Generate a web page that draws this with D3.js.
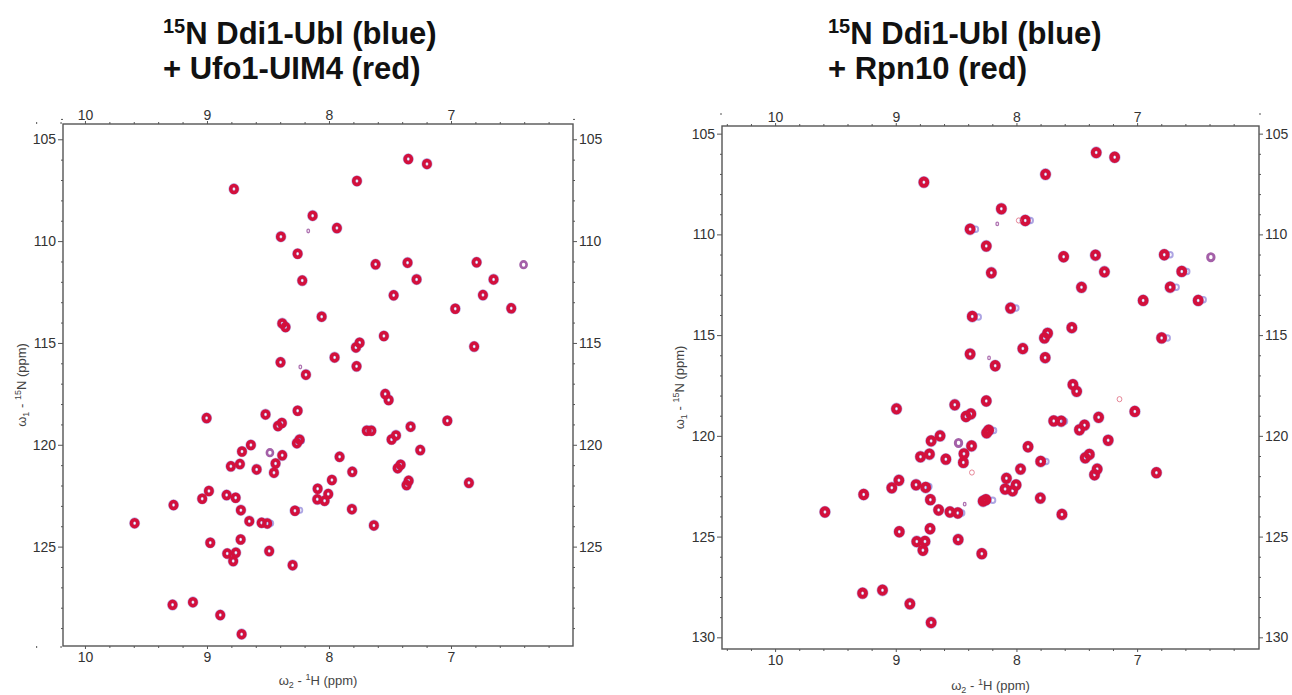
<!DOCTYPE html>
<meta charset="utf-8">
<script src="https://d3js.org/d3.v7.min.js"></script>
<style>
  body { margin: 0; background: #fff; }
  svg text { font-family: "Liberation Sans", Arial, Helvetica, sans-serif; }
</style>
<body>
<div id="chart"></div>
<script>
// peak positions in ppm, [1H, 15N]
// left: 15N Ddi1-Ubl + Ufo1-UIM4
var ufoRed = [
  [7.350,105.97],[7.197,106.21],[7.771,107.05],[8.779,107.44],[8.134,108.75],[7.935,109.36],
  [8.394,109.78],[8.257,110.62],[7.618,111.14],[7.356,111.06],[6.790,111.04],[8.219,111.94],
  [7.282,111.88],[6.651,111.88],[7.470,112.66],[6.738,112.65],[6.965,113.32],[6.506,113.30],
  [8.060,113.71],[8.383,114.04],[8.356,114.22],[7.550,114.66],[7.779,115.22],[7.749,114.99],
  [6.810,115.18],[8.397,115.95],[8.189,116.56],[7.954,115.71],[7.774,116.15],[7.539,117.51],
  [7.511,117.80],[9.003,118.69],[8.520,118.51],[8.257,118.33],[8.418,119.08],[8.386,118.93],
  [7.030,118.82],[7.690,119.31],[7.653,119.31],[7.487,119.74],[7.451,119.54],[7.331,119.11],
  [8.263,119.92],[8.241,119.75],[7.252,120.26],[8.640,120.01],[8.713,120.33],[8.383,120.52],
  [8.438,120.92],[8.451,121.37],[8.804,121.06],[8.730,120.95],[8.593,121.21],[7.913,120.59],
  [7.809,121.33],[7.437,121.15],[7.413,120.98],[7.364,121.98],[7.347,121.77],[6.853,121.87],
  [7.976,121.73],[8.093,122.16],[8.006,122.42],[8.036,122.75],[8.096,122.68],[8.984,122.27],
  [9.039,122.65],[8.839,122.47],[8.765,122.60],[9.274,122.96],[8.722,123.21],[8.279,123.24],
  [7.812,123.16],[9.593,123.85],[8.653,123.75],[8.552,123.83],[8.506,123.86],[7.632,123.96],
  [8.973,124.81],[8.724,124.65],[8.834,125.34],[8.763,125.30],[8.785,125.71],[8.490,125.22],
  [8.298,125.91],[9.282,127.86],[9.115,127.73],[8.891,128.36],[8.716,129.30]
];
var ufoWeak = [[8.484,120.39],[6.405,111.16]];
var ufoTiny = [[8.170,109.50],[8.235,116.18]];
var ufoBlueOnly = [[8.224,119.80],[8.238,123.21],[8.476,123.85]];

// right: 15N Ddi1-Ubl + Rpn10
var rpnRed = [
  [7.339,105.94],[7.186,106.17],[7.759,107.02],[8.767,107.41],[8.125,108.73],[7.927,109.31],
  [8.384,109.74],[8.250,110.58],[7.609,111.11],[7.345,111.03],[6.775,111.01],[8.208,111.91],
  [7.271,111.86],[6.630,111.84],[7.461,112.63],[6.726,112.62],[6.950,113.28],[6.494,113.28],
  [8.049,113.66],[8.366,114.07],[7.541,114.63],[7.768,115.14],[7.742,114.91],[6.797,115.14],
  [8.384,115.94],[8.176,116.52],[7.947,115.67],[7.762,116.12],[7.532,117.46],[7.501,117.79],
  [8.994,118.66],[8.511,118.46],[8.250,118.27],[8.418,119.04],[8.378,118.91],[7.019,118.79],
  [7.691,119.26],[7.629,119.27],[7.478,119.70],[7.436,119.47],[7.319,119.08],[8.247,119.85],
  [8.230,119.72],[7.240,120.22],[8.633,120.00],[8.707,120.25],[8.372,120.50],[8.435,120.89],
  [8.440,121.32],[8.795,121.04],[8.721,120.91],[8.585,121.16],[7.904,120.54],[7.799,121.27],
  [7.430,121.09],[7.396,120.92],[7.353,121.93],[7.331,121.65],[6.840,121.83],[7.966,121.65],
  [8.083,122.11],[8.003,122.44],[8.032,122.73],[8.094,122.64],[8.974,122.21],[9.033,122.58],
  [8.832,122.43],[8.752,122.56],[9.266,122.91],[8.713,123.17],[8.276,123.24],[8.253,123.17],
  [7.802,123.09],[9.587,123.78],[8.645,123.68],[8.551,123.78],[8.486,123.83],[7.623,123.90],
  [8.971,124.76],[8.716,124.61],[8.826,125.25],[8.758,125.24],[8.775,125.68],[8.483,125.15],
  [8.287,125.85],[9.275,127.81],[9.110,127.66],[8.883,128.34],[8.707,129.27]
];
var rpnWeak = [[6.389,111.13],[8.480,120.35]];
var rpnTiny = [[8.159,109.48],[8.227,116.13],[8.429,123.39]];
var rpnFaintRed = [[7.146,118.18],[8.369,121.82],[7.981,109.31]];
var rpnBlueOnly = [
  [6.726,111.01],[6.675,112.62],[6.587,111.84],[6.451,113.24],[6.749,115.14],[8.188,119.74],
  [8.196,123.20],[8.452,123.83],[7.600,119.27],[8.315,114.10],[8.724,122.51],[7.884,109.31],
  [8.338,109.74],[8.003,113.66],[7.754,121.27]
];

var hMajor = [10, 9, 8, 7];
var hMinor = [10.4, 10.2, 9.8, 9.6, 9.4, 9.2, 8.8, 8.6, 8.4, 8.2, 7.8, 7.6, 7.4, 7.2, 6.8, 6.6, 6.4, 6.2];
var nMajorUfo = [105, 110, 115, 120, 125];
var nMajorRpn = [105, 110, 115, 120, 125, 130];
var nMinor = [104,106,107,108,109,111,112,113,114,116,117,118,119,121,122,123,124,126,127,128,129];

var RED = "#d3103c", BLUE = "#5b4cc8", PURPLE = "#9a4f9e";

var svg = d3.select("#chart").append("svg")
  .attr("width", 1292).attr("height", 695);

function drawPanel(p) {
  var g = svg.append("g");
  var x = d3.scaleLinear().domain(p.hDomain).range([p.left, p.right]);
  var y = d3.scaleLinear().domain(p.nDomain).range([p.top, p.bottom]);

  // title
  p.title.forEach(function(line, i) {
    var t = g.append("text")
      .attr("x", p.titleX).attr("y", p.titleY + i * 35)
      .style("font-size", "31px").style("font-weight", "bold").attr("fill", "#111");
    if (line.sup) {
      t.append("tspan").text(line.sup).style("font-size", "20px").attr("dy", "-11");
      t.append("tspan").text(line.text).attr("dy", "11");
    } else {
      t.append("tspan").text(line.text);
    }
  });

  function ax(gen, scale, vals, size, pad, tr, labels) {
    var a = gen(scale).tickValues(vals).tickSize(size).tickSizeOuter(0).tickPadding(pad);
    a.tickFormat(labels ? d3.format("d") : "");
    var s = g.append("g").attr("transform", tr).call(a);
    s.select(".domain").remove();
    s.selectAll("line").attr("stroke", "#555");
    s.selectAll("text").style("font-size", "14px").style("font-family", "Liberation Sans, Arial, sans-serif").attr("fill", "#333");
  }
  ax(d3.axisTop, x, hMajor, 3, 1, "translate(0," + p.top + ")", true);
  ax(d3.axisTop, x, hMinor, 2, 1, "translate(0," + p.top + ")", false);
  ax(d3.axisBottom, x, hMajor, 3, 3, "translate(0," + p.bottom + ")", true);
  ax(d3.axisBottom, x, hMinor, 2, 3, "translate(0," + p.bottom + ")", false);
  ax(d3.axisLeft, y, p.nMajor, 5, 2, "translate(" + p.left + ",0)", true);
  ax(d3.axisLeft, y, nMinor, 2, 2, "translate(" + p.left + ",0)", false);
  ax(d3.axisRight, y, p.nMajor, 4, 2, "translate(" + p.right + ",0)", true);
  ax(d3.axisRight, y, nMinor, 2, 2, "translate(" + p.right + ",0)", false);

  g.append("rect")
    .attr("x", p.left).attr("y", p.top)
    .attr("width", p.right - p.left).attr("height", p.bottom - p.top)
    .attr("fill", "none").attr("stroke", "#555").attr("stroke-width", 1.4);

  var clipId = "clip" + p.id;
  g.append("clipPath").attr("id", clipId).append("rect")
    .attr("x", p.left).attr("y", p.top)
    .attr("width", p.right - p.left).attr("height", p.bottom - p.top);
  var pk = g.append("g").attr("clip-path", "url(#" + clipId + ")");

  function rings(data, color, rx, ry, w, op) {
    pk.append("g").selectAll("ellipse").data(data).join("ellipse")
      .attr("cx", function(d) { return x(d[0]); })
      .attr("cy", function(d) { return y(d[1]); })
      .attr("rx", rx).attr("ry", ry)
      .attr("fill", "none").attr("stroke", color)
      .attr("stroke-width", w).attr("opacity", op);
  }
  // blue (free Ubl) underneath, red (complex) on top
  rings(p.red, BLUE, p.rx, p.ry, p.w + 1.2, 0.4);
  rings(p.blueOnly, BLUE, p.rx * 0.75, p.ry * 0.75, p.w * 0.5, 0.5);
  rings(p.red, RED, p.rx, p.ry, p.w, 1);
  rings(p.weak, PURPLE, p.rx * 0.95, p.ry * 0.95, p.w * 0.75, 0.9);
  rings(p.tiny, PURPLE, 1.3, 1.8, 1.3, 0.8);
  rings(p.faint, "#e06a80", 2.4, 2.6, 1, 0.8);

  // axis titles
  var xl = g.append("text")
    .attr("x", (p.left + p.right) / 2).attr("y", p.xLabelY)
    .attr("text-anchor", "middle").style("font-size", "13px").attr("fill", "#444");
  xl.append("tspan").text("\u03c9");
  xl.append("tspan").text("2").style("font-size", "9px").attr("dy", "3");
  xl.append("tspan").text(" - ").attr("dy", "-3");
  xl.append("tspan").text("1").style("font-size", "9px").attr("dy", "-5");
  xl.append("tspan").text("H  (ppm)").attr("dy", "5");

  var yl = g.append("text")
    .attr("transform", "translate(" + p.yLabelX + "," + ((p.top + p.bottom) / 2) + ") rotate(-90)")
    .attr("text-anchor", "middle").style("font-size", "13px").attr("fill", "#444");
  yl.append("tspan").text("\u03c9");
  yl.append("tspan").text("1").style("font-size", "9px").attr("dy", "3");
  yl.append("tspan").text(" - ").attr("dy", "-3");
  yl.append("tspan").text("15").style("font-size", "9px").attr("dy", "-5");
  yl.append("tspan").text("N  (ppm)").attr("dy", "5");
}

drawPanel({
  id: "ufo", left: 63, right: 573, top: 124, bottom: 646,
  hDomain: [10.18, 6.0], nDomain: [104.25, 129.88], nMajor: nMajorUfo,
  red: ufoRed, weak: ufoWeak, tiny: ufoTiny, blueOnly: ufoBlueOnly, faint: [],
  rx: 3.2, ry: 3.5, w: 3.5,
  title: [{sup: "15", text: "N Ddi1-Ubl (blue)"}, {text: "+ Ufo1-UIM4 (red)"}],
  titleX: 163, titleY: 44, xLabelY: 685, yLabelX: 26
});

drawPanel({
  id: "rpn", left: 722, right: 1259, top: 126, bottom: 649,
  hDomain: [10.44, 5.99], nDomain: [104.62, 130.58], nMajor: nMajorRpn,
  red: rpnRed, weak: rpnWeak, tiny: rpnTiny, blueOnly: rpnBlueOnly, faint: rpnFaintRed,
  rx: 3.4, ry: 3.7, w: 3.9,
  title: [{sup: "15", text: "N Ddi1-Ubl (blue)"}, {text: "+ Rpn10 (red)"}],
  titleX: 828, titleY: 44, xLabelY: 690, yLabelX: 684
});
</script>
</body>
